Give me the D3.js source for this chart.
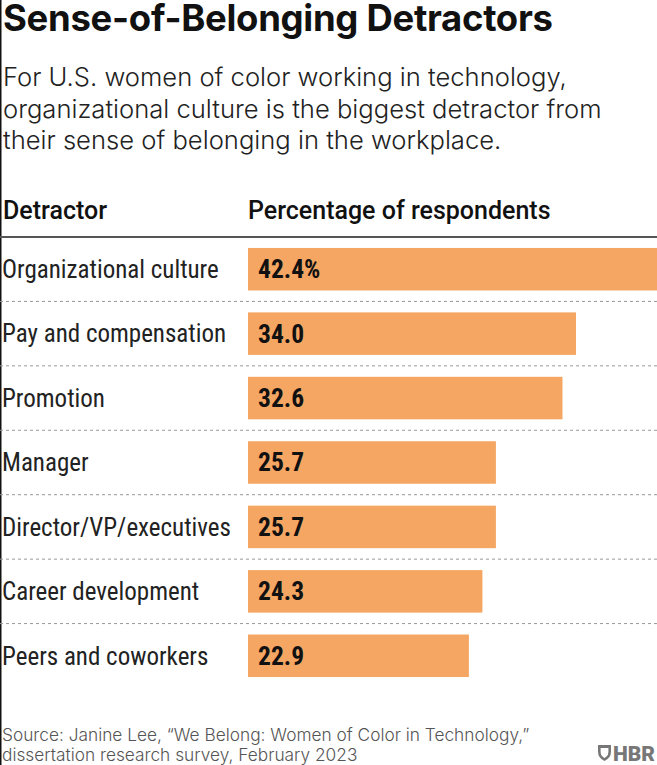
<!DOCTYPE html>
<html>
<head>
<meta charset="utf-8">
<script src="https://cdn.jsdelivr.net/npm/d3@7"></script>
<style>
  body { margin: 0; background: #fff; }
  svg { display: block; }
</style>
</head>
<body>
<script>
const width = 657;
const height = 765;

const detractors = [
  "Organizational culture",
  "Pay and compensation",
  "Promotion",
  "Manager",
  "Director/VP/executives",
  "Career development",
  "Peers and coworkers",
];
const percents = [42.4, 34.0, 32.6, 25.7, 25.7, 24.3, 22.9];

const title = "Sense-of-Belonging Detractors";
const subtitle = [
  "For U.S. women of color working in technology,",
  "organizational culture is the biggest detractor from",
  "their sense of belonging in the workplace.",
];
const source = [
  "Source: Janine Lee, \u201CWe Belong: Women of Color in Technology,\u201D",
  "dissertation research survey, February 2023",
];

const data = detractors.map((d, i) => ({ name: d, value: percents[i] }));

const narrow = "'Liberation Sans Narrow', 'Roboto Condensed', 'DejaVu Sans Condensed', sans-serif";
const sans = "Inter, Roboto, sans-serif";

let svg = d3
  .select("body")
  .append("svg")
  .attr("width", width)
  .attr("height", height);

// left border
svg.append("line")
  .attr("x1", 0.75).attr("x2", 0.75)
  .attr("y1", 0).attr("y2", height)
  .attr("stroke", "#111").attr("stroke-width", 1.5);

svg.append("text")
  .attr("x", 3).attr("y", 31)
  .attr("font-family", sans)
  .attr("font-weight", 700)
  .attr("font-size", 36.5)
  .attr("letter-spacing", -0.3)
  .attr("fill", "#111")
  .text(title);

svg.append("g")
  .selectAll("text")
  .data(subtitle)
  .join("text")
  .attr("x", 3)
  .attr("y", (d, i) => 86 + i * 31.5)
  .attr("font-family", sans)
  .attr("font-weight", 300)
  .attr("font-size", 25.6)
  .attr("fill", "#222")
  .text((d) => d);

// header
let header = svg.append("g")
  .attr("font-family", "Roboto, sans-serif")
  .attr("font-weight", 500)
  .attr("font-size", 25)
  .attr("fill", "#111");
header.append("text").attr("x", 3).attr("y", 219).text("Detractor");
header.append("text").attr("x", 248).attr("y", 219).text("Percentage of respondents");

svg.append("line")
  .attr("x1", 0).attr("x2", width)
  .attr("y1", 237).attr("y2", 237)
  .attr("stroke", "#555").attr("stroke-width", 2);

let xScale = d3
  .scaleLinear()
  .domain([0, d3.max(percents)])
  .range([248, width]);

let yScale = d3
  .scaleBand()
  .domain(detractors)
  .range([237, 688])
  .paddingInner(0.34)
  .paddingOuter(0.17);

let step = yScale.step();

// dashed separators between rows
svg.append("g")
  .selectAll("line")
  .data(detractors.slice(1))
  .join("line")
  .attr("x1", 0)
  .attr("x2", width)
  .attr("y1", (d) => yScale(d) - (step - yScale.bandwidth()) / 2)
  .attr("y2", (d) => yScale(d) - (step - yScale.bandwidth()) / 2)
  .attr("stroke", "#999")
  .attr("stroke-width", 1)
  .attr("stroke-dasharray", "3,3");

svg.append("g")
  .selectAll("rect")
  .data(data)
  .join("rect")
  .attr("x", xScale(0))
  .attr("y", (d) => yScale(d.name))
  .attr("width", (d) => xScale(d.value) - xScale(0))
  .attr("height", yScale.bandwidth())
  .attr("fill", "#f5a663");

svg.append("g")
  .selectAll("text")
  .data(data)
  .join("text")
  .attr("x", 2)
  .attr("y", (d) => yScale(d.name) + yScale.bandwidth() / 2)
  .attr("dy", "0.35em")
  .attr("font-family", narrow)
  .attr("font-size", 25)
  .attr("fill", "#222")
  .text((d) => d.name);

svg.append("g")
  .selectAll("text")
  .data(data)
  .join("text")
  .attr("x", xScale(0) + 10)
  .attr("y", (d) => yScale(d.name) + yScale.bandwidth() / 2)
  .attr("dy", "0.35em")
  .attr("font-family", narrow)
  .attr("font-weight", 700)
  .attr("font-size", 25.5)
  .attr("fill", "#111")
  .text((d, i) => d3.format(".1f")(d.value) + (i === 0 ? "%" : ""));

svg.append("g")
  .selectAll("text")
  .data(source)
  .join("text")
  .attr("x", 2)
  .attr("y", (d, i) => 741 + i * 20)
  .attr("font-family", sans)
  .attr("font-weight", 300)
  .attr("font-size", 17.3)
  .attr("fill", "#555")
  .text((d) => d);

// HBR mark
let logo = svg.append("g").attr("transform", "translate(598, 745)");
logo.append("path")
  .attr("d", "M0,0 H13 V6.5 Q13,13 6.5,16 Q0,13 0,6.5 Z M2.6,3 H10.4 V6.5 Q10.4,11 6.5,13 Q2.6,11 2.6,6.5 Z")
  .attr("fill", "#777")
  .attr("fill-rule", "evenodd");
logo.append("text")
  .attr("x", 15).attr("y", 16)
  .attr("font-family", "Roboto, sans-serif")
  .attr("font-weight", 900)
  .attr("font-size", 21)
  .attr("fill", "#777")
  .text("HBR");
</script>
</body>
</html>
